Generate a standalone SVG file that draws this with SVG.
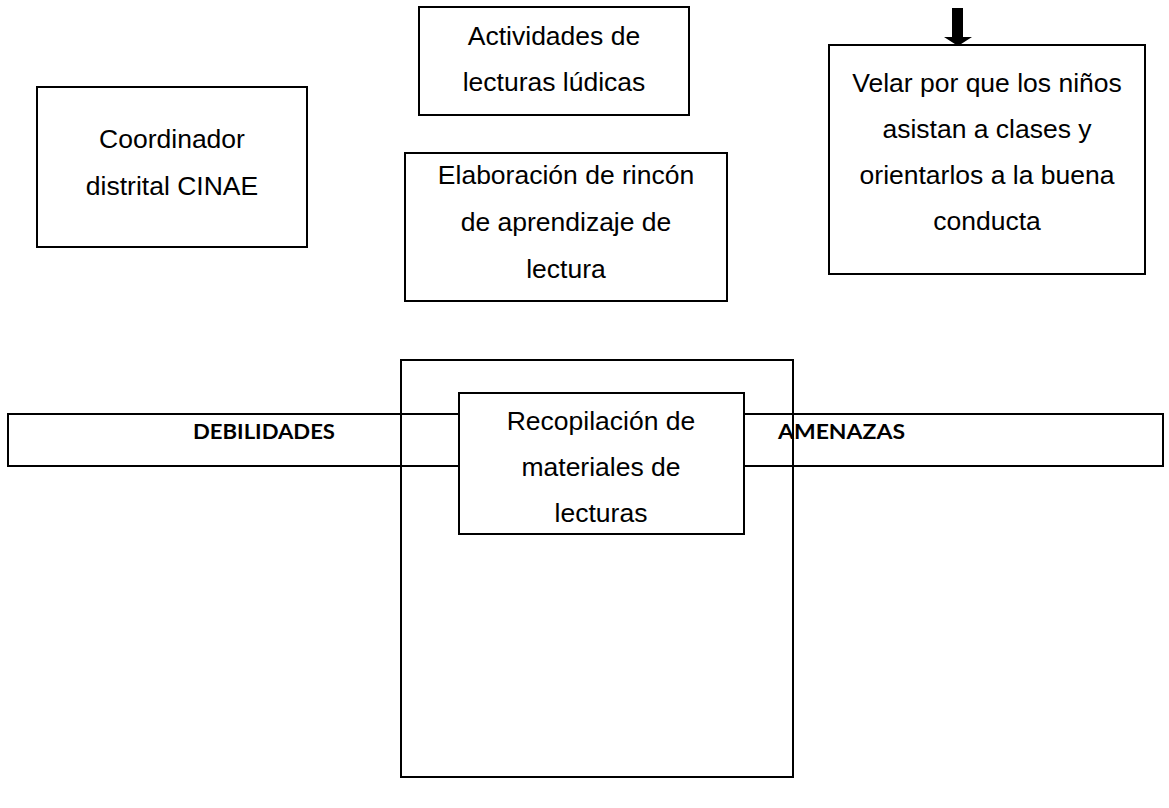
<svg xmlns="http://www.w3.org/2000/svg" width="1169" height="808" viewBox="0 0 1169 808">
<style>
.box{fill:#fff;stroke:#000;stroke-width:2}
.frame{fill:none;stroke:#000;stroke-width:2}
.t{font-family:"Liberation Sans",Arial,sans-serif;font-size:26.5px;fill:#000;text-anchor:middle}
.b{font-family:Lato,"Open Sans","Liberation Sans",sans-serif;font-weight:bold;font-size:21px;fill:#000}
</style>
<rect width="1169" height="808" fill="#fff"/>
<g id="bar">
<rect class="frame" x="8" y="414" width="1155" height="52"/>
<text class="b" x="193" y="439" textLength="142" lengthAdjust="spacingAndGlyphs">DEBILIDADES</text>
<text class="b" x="778" y="439" textLength="127" lengthAdjust="spacingAndGlyphs">AMENAZAS</text>
</g>
<g id="bigbox">
<rect class="frame" x="401" y="360" width="392" height="417"/>
</g>
<g id="coordinador">
<rect class="box" x="37" y="87" width="270" height="160"/>
<text class="t" x="172" y="148">Coordinador</text>
<text class="t" x="172" y="195">distrital CINAE</text>
</g>
<g id="actividades">
<rect class="box" x="419" y="7" width="270" height="108"/>
<text class="t" x="554" y="45">Actividades de</text>
<text class="t" x="554" y="91">lecturas lúdicas</text>
</g>
<g id="elaboracion">
<rect class="box" x="405" y="153" width="322" height="148"/>
<text class="t" x="566" y="184">Elaboración de rincón</text>
<text class="t" x="566" y="231">de aprendizaje de</text>
<text class="t" x="566" y="278">lectura</text>
</g>
<g id="velar">
<rect class="box" x="829" y="45" width="316" height="229"/>
<text class="t" x="987" y="92">Velar por que los niños</text>
<text class="t" x="987" y="138">asistan a clases y</text>
<text class="t" x="987" y="184">orientarlos a la buena</text>
<text class="t" x="987" y="230">conducta</text>
</g>
<g id="recopilacion">
<rect class="box" x="459" y="393" width="285" height="141"/>
<text class="t" x="601" y="430">Recopilación de</text>
<text class="t" x="601" y="476">materiales de</text>
<text class="t" x="601" y="522">lecturas</text>
</g>
<g id="connectors">
<path d="M952 8 H963 V37 H972 L958 46 L944 37 H952 Z" fill="#000"/>
</g>
</svg>
